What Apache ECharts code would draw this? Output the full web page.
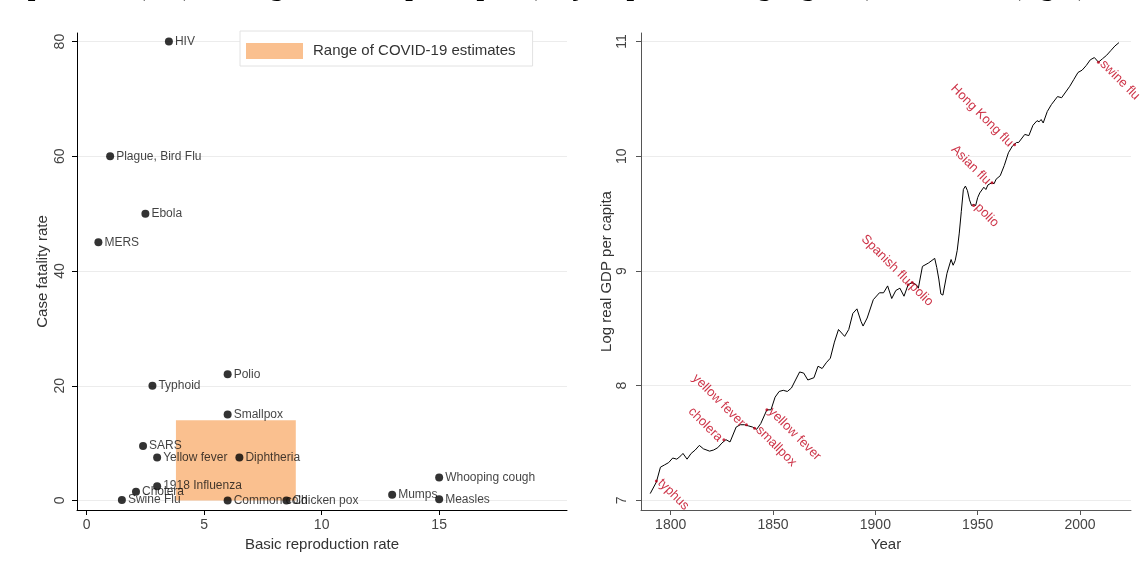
<!DOCTYPE html>
<html>
<head>
<meta charset="UTF-8">
<title>epidemics</title>
<style>
  html, body { margin: 0; padding: 0; background: #fff; }
  #chart { width: 1144px; height: 575px; }
</style>
</head>
<body>
<div id="chart"></div>
<script src="https://cdn.jsdelivr.net/npm/echarts@6/dist/echarts.min.js"></script>
<script>
// left panel: reproduction rate vs case fatality rate
var diseaseNames = ['HIV', 'Plague, Bird Flu', 'Ebola', 'MERS', 'Polio', 'Typhoid', 'Smallpox', 'SARS',
  'Yellow fever', 'Diphtheria', '1918 Influenza', 'Cholera', 'Swine Flu', 'Common cold', 'Chicken pox',
  'Whooping cough', 'Mumps', 'Measles'];
var reproRate    = [3.5, 1.0, 2.5, 0.5, 6.0, 2.8, 6.0, 2.4, 3.0, 6.5, 3.0, 2.1, 1.5, 6.0, 8.5, 15.0, 13.0, 15.0];
var fatalityRate = [80, 60, 50, 45, 22, 20, 15, 9.5, 7.5, 7.5, 2.5, 1.5, 0.1, 0, 0, 4, 1, 0.2];
var covidRepro    = [3.8, 8.9];
var covidFatality = [0, 14];
var leftXTicks = [0, 5, 10, 15];
var leftYTicks = [0, 20, 40, 60, 80];

// right panel: log real GDP per capita
var years = [1790, 1793, 1795, 1797, 1799, 1801, 1803, 1805, 1806, 1808, 1810, 1812, 1814, 1816, 1819, 1821,
  1823, 1825, 1827, 1829, 1832, 1834, 1836, 1838, 1840, 1842, 1844, 1847, 1849, 1851, 1853, 1855, 1857, 1859,
  1861, 1863, 1865, 1867, 1870, 1872, 1874, 1876, 1878, 1880, 1882, 1884, 1885, 1887, 1889, 1891, 1893, 1894,
  1896, 1899, 1902, 1904, 1906, 1908, 1910, 1912, 1914, 1916, 1918, 1920, 1921, 1923, 1926, 1929, 1930, 1931,
  1932, 1933, 1935, 1937, 1938, 1939, 1940, 1941, 1942, 1943, 1944, 1945, 1946, 1947, 1948, 1949, 1950, 1951,
  1953, 1954, 1955, 1957, 1958, 1959, 1961, 1963, 1965, 1967, 1969, 1970, 1973, 1975, 1977, 1979, 1980, 1981,
  1982, 1984, 1986, 1989, 1991, 1993, 1995, 1997, 1999, 2001, 2003, 2005, 2007, 2009, 2011, 2013, 2015, 2017, 2019];
var logGdp = [7.06, 7.16, 7.29, 7.31, 7.33, 7.37, 7.36, 7.39, 7.41, 7.36, 7.41, 7.44, 7.48, 7.45, 7.43, 7.44,
  7.46, 7.50, 7.53, 7.51, 7.64, 7.66, 7.66, 7.65, 7.64, 7.62, 7.67, 7.79, 7.79, 7.90, 7.95, 7.96, 7.95, 7.98,
  8.05, 8.12, 8.11, 8.05, 8.07, 8.17, 8.15, 8.20, 8.24, 8.38, 8.49, 8.45, 8.43, 8.49, 8.63, 8.67, 8.56, 8.52,
  8.59, 8.75, 8.81, 8.81, 8.87, 8.76, 8.83, 8.85, 8.78, 8.88, 8.90, 8.88, 8.85, 9.04, 9.07, 9.11, 9.03, 8.93,
  8.80, 8.79, 8.98, 9.10, 9.05, 9.09, 9.18, 9.33, 9.52, 9.71, 9.74, 9.70, 9.62, 9.57, 9.58, 9.57, 9.64, 9.68,
  9.73, 9.71, 9.75, 9.77, 9.76, 9.80, 9.83, 9.92, 10.03, 10.09, 10.12, 10.12, 10.19, 10.18, 10.27, 10.31, 10.30, 10.32,
  10.29, 10.39, 10.45, 10.52, 10.51, 10.56, 10.61, 10.67, 10.73, 10.75, 10.79, 10.84, 10.86, 10.82, 10.85, 10.88, 10.92, 10.96, 10.99];
var rightXTicks = [1800, 1850, 1900, 1950, 2000];
var rightYTicks = [7, 8, 9, 10, 11];

// epidemics marked on the GDP line, label drawn up-left or down-right of the point
var epiUpNames  = ['cholera', 'yellow fever', 'Spanish flu', 'Asian flu', 'Hong Kong flu'];
var epiUpYears  = [1826, 1837, 1918, 1957, 1968];
var epiUpValues = [7.53, 7.66, 8.90, 9.77, 10.10];
var epiDownNames  = ['typhus', 'smallpox', 'yellow fever', 'polio', 'polio', 'swine flu'];
var epiDownYears  = [1793, 1841, 1847, 1916, 1948, 2009];
var epiDownValues = [7.17, 7.63, 7.79, 8.88, 9.57, 10.82];

var font = 'Liberation Sans, Arial, sans-serif';
var red = '#c0001a';

function pairs(a, b) {
  var out = [];
  for (var i = 0; i < a.length; i++) out.push([a[i], b[i]]);
  return out;
}

function valueAxis(idx, min, max, ticks, name, opts) {
  var ax = {
    type: 'value', gridIndex: idx, min: min, max: max,
    name: name, nameLocation: 'middle', nameGap: opts.nameGap,
    nameTextStyle: { fontFamily: font, fontSize: 15, color: '#333' },
    axisLine: { show: true, onZero: false, lineStyle: { color: opts.lineColor, width: 1 } },
    axisTick: { show: true, length: 5, customValues: ticks, lineStyle: { color: opts.lineColor } },
    axisLabel: {
      customValues: ticks, fontFamily: font, fontSize: 14, color: '#444',
      margin: opts.margin, rotate: opts.rotate || 0,
      formatter: function (v) { return String(v); }
    },
    splitLine: { show: opts.split, lineStyle: { color: '#ececec', width: 1 } }
  };
  return ax;
}

var chart = echarts.init(document.getElementById('chart'));

var option = {
  backgroundColor: '#fff',
  animation: false,
  title: {
    text: 'Figure 1: Fatality and transmission of epidemics (left) and log real GDP per capita (major epidemics highlighted), 1790-2019 (right)',
    right: 52, top: -30,
    textStyle: { fontFamily: 'Liberation Serif, Times New Roman, serif', fontWeight: 'bold', fontSize: 27, color: '#000' }
  },
  legend: {
    data: [{ name: 'Range of COVID-19 estimates', icon: 'rect' }],
    left: 240, top: 31,
    itemWidth: 57, itemHeight: 16, itemGap: 10,
    padding: [12, 17, 7, 6],
    backgroundColor: '#fff', borderColor: '#e2e2e2', borderWidth: 1, borderRadius: 0,
    textStyle: { fontFamily: font, fontSize: 15, color: '#333', padding: [0, 0, 0, 5] }
  },
  grid: [
    { left: 77, top: 33, width: 490, height: 477 },
    { left: 641, top: 33, width: 490, height: 477 }
  ],
  xAxis: [
    valueAxis(0, -0.41, 20.44, leftXTicks, 'Basic reproduction rate', { nameGap: 26, lineColor: '#000', margin: 8, split: false }),
    valueAxis(1, 1785.5, 2024.9, rightXTicks, 'Year', { nameGap: 26, lineColor: '#555', margin: 8, split: false })
  ],
  yAxis: [
    valueAxis(0, -1.66, 81.5, leftYTicks, 'Case fatality rate', { nameGap: 27, lineColor: '#000', margin: 10, rotate: 90, split: true }),
    valueAxis(1, 6.917, 11.074, rightYTicks, 'Log real GDP per capita', { nameGap: 27, lineColor: '#555', margin: 12, rotate: 90, split: true })
  ],
  series: [
    {
      type: 'custom', name: 'Range of COVID-19 estimates',
      xAxisIndex: 0, yAxisIndex: 0, silent: true, z: 1,
      itemStyle: { color: '#fac08f' },
      data: [[covidRepro[0], covidFatality[0], covidRepro[1], covidFatality[1]]],
      encode: { x: [0, 2], y: [1, 3] },
      renderItem: function (params, api) {
        var p0 = api.coord([api.value(0), api.value(1)]);
        var p1 = api.coord([api.value(2), api.value(3)]);
        return {
          type: 'rect',
          shape: { x: p0[0], y: p1[1], width: p1[0] - p0[0], height: p0[1] - p1[1] },
          style: { fill: '#fac08f' }
        };
      }
    },
    {
      type: 'scatter', name: 'diseases', xAxisIndex: 0, yAxisIndex: 0, z: 3,
      symbol: 'circle', symbolSize: 8,
      itemStyle: { color: '#000' },
      data: pairs(reproRate, fatalityRate).map(function (d, i) { return { value: d, name: diseaseNames[i] }; }),
      label: {
        show: true, position: 'right', distance: 2,
        formatter: function (p) { return p.name; },
        fontFamily: font, fontSize: 12, color: '#111'
      }
    },
    {
      type: 'line', name: 'gdp', xAxisIndex: 1, yAxisIndex: 1, z: 2,
      showSymbol: false, symbol: 'none',
      lineStyle: { color: '#000', width: 1 },
      data: pairs(years, logGdp)
    },
    {
      type: 'scatter', name: 'epi up', xAxisIndex: 1, yAxisIndex: 1, z: 4,
      symbol: 'circle', symbolSize: 3, itemStyle: { color: red },
      data: pairs(epiUpYears, epiUpValues).map(function (d, i) { return { value: d, name: epiUpNames[i] }; }),
      label: {
        show: true, position: 'left', distance: 2, rotate: -45, align: 'right', verticalAlign: 'middle',
        formatter: function (p) { return p.name; },
        fontFamily: font, fontSize: 13, color: red
      }
    },
    {
      type: 'scatter', name: 'epi down', xAxisIndex: 1, yAxisIndex: 1, z: 4,
      symbol: 'circle', symbolSize: 3, itemStyle: { color: red },
      data: pairs(epiDownYears, epiDownValues).map(function (d, i) { return { value: d, name: epiDownNames[i] }; }),
      label: {
        show: true, position: 'right', distance: 2, rotate: -45, align: 'left', verticalAlign: 'middle',
        formatter: function (p) { return p.name; },
        fontFamily: font, fontSize: 13, color: red
      }
    }
  ]
};

chart.setOption(option);
</script>
</body>
</html>
